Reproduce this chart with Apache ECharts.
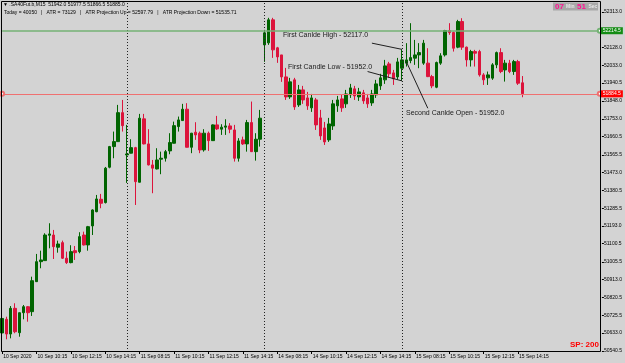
<!DOCTYPE html>
<html>
<head>
<meta charset="utf-8">
<script src="https://cdn.jsdelivr.net/npm/echarts@6/dist/echarts.min.js"></script>
<style>
html,body{margin:0;padding:0;background:#d3d3d3;}
#chart{width:625px;height:363px;}
</style>
</head>
<body>
<div id="chart"></div>
<script>
// .SA40Fut.b M15 bars, 10 Sep 08:15 .. 15 Sep 14:30
var opens = [
  50633.5,50705,50628,50762.5,50635,50739.5,50771,50745,50902,51006.5,51012,51144.5,51146,51082,51106,51024.5,51001.5,51064,51059,51146,51094,51193.5,51268,51333,51315.5,51500.5,51608.5,51634.5,51786,
  51565,51574,51603,51422,51753.5,51622.5,51512.5,51491.5,51542.5,51547.5,51586,51626,51713,51744.5,51804,51605,51683.5,51678.5,51591,51678.5,51639.5,51722,51699.5,51710,51716.5,51695.5,51547.5,51643.5,51622.5,51734,51582,51647,
  52140.5,52151,52271.5,52125,52088,51973,51868.5,51957.5,51826.5,51905,51863,51811,51852.5,51758.5,51706,51643.5,51716.5,51821.5,51858,51832,51879,51910.5,51868.5,51889.5,51863,51837,51879,51926,51957.5,52041,51994,51973,
  52018.5,52045,52058.5,52071,52088,52045,52045,51974.5,51919,52045,52088,52215.5,52205,52128.5,52262.5,52128.5,52062,52105.5,52105.5,51983.5,51968,51966.5,52036,52100,52009.5,52045,52001,52053,51942
];
var closes = [
  50709.5,50628,50762.5,50640,50739.5,50771,50739.5,50907,51006.5,51015.5,51146,51151.5,51085,51099,51024.5,51001.5,51059,51053.5,51137.5,51094,51189.5,51277,51334.5,51312,51495.5,51608.5,51634.5,51786,51718,
  51570,51603,51425,51757,51622.5,51512.5,51495.5,51538.5,51547.5,51582,51629.5,51718,51748,51804,51605,51678.5,51669.5,51591,51678.5,51639.5,51722,51701,51710,51716.5,51699.5,51547.5,51638,51622.5,51734,51582,51647,51757,
  52203.5,52271.5,52114.5,52077.5,51973,51868.5,51947,51816,51905,51852.5,51821.5,51863,51722,51664.5,51633,51727,51832,51852.5,51811,51884,51915.5,51873.5,51894.5,51847.5,51832,51884,51936.5,51968,52030.5,51989,51962.5,52051.5,
  52062,52062,52074,52088,52100,52149.5,51974.5,51926,52048,52083,52215.5,52205,52123,52262.5,52128.5,52062,52105.5,52097,51983.5,51957.5,51983.5,52036,52100,52001,52045,52001,52053,51940,51885
];
var highs = [
  50722.5,50718.5,50774.5,50789,50741,50780,50774.5,50928,51047,51064,51155,51207.5,51172.5,51116.5,51116.5,51059,51092.5,51088.5,51160.5,51163.5,51193.5,51280.5,51355.5,51361,51502,51612,51687,51826.5,51852.5,
  51722,51647,51607,51779.5,51779.5,51699.5,51538.5,51600,51582,51591,51678.5,51739,51765.5,51832,51835.5,51680,51736,51687,51699.5,51687,51724.5,51769,51725.5,51751.5,51731,51722,51652.5,51660.5,51748,51844,51678.5,51800.5,
  52219,52282,52282,52130,52088,52020,51968,51968,51931,51926,51894.5,51884,51863,51800.5,51737.5,51758.5,51852.5,51873.5,51879,51905,51936.5,51926,51915.5,51905,51884,51905,51957.5,51989,52062,52051.5,52009.5,52072.5,
  52117,52149.5,52254,52166.5,52149.5,52166.5,52123,51983.5,52053,52097,52219,52254,52210,52271.5,52280,52131.5,52114.5,52114.5,52114.5,51992.5,52001,52045,52105.5,52123,52062,52062,52062,52062,51977.5
];
var lows = [
  50623,50600.5,50605.5,50632,50614,50705,50692.5,50722.5,50900,50972,51010,51076.5,51020.5,51053.5,51020.5,50994.5,50998,51015.5,51050.5,51091,51064,51146,51265,51286,51311,51495,51547.5,51633,51687,
  51418.5,51573,51303,51421,51620,51510,51364.5,51489,51464,51530,51568.5,51625,51687,51743,51604,51574,51643.5,51574,51582,51586,51638,51695.5,51669.5,51669.5,51678.5,51530,51530,51617,51582,51580,51535,51608.5,
  52051.5,52140.5,52072.5,52046.5,51947,51852.5,51858,51800.5,51816,51832,51800.5,51790,51695.5,51643.5,51617,51633,51695.5,51790,51790,51811,51863,51852.5,51847.5,51832,51811,51821.5,51863,51905,51936.5,51968,51931,51957.5,
  51952,52027,52044.5,52036,52018.5,52036,51972,51914,51914,52036,52079.5,52193,52105.5,52123,52114.5,52027,52027,52027,51974.5,51931,51931,51957.5,52018.5,51992.5,51948.5,51992.5,51983.5,51931,51866.5
];

// time labels, one every 8 bars starting at the first bar
var xLabels = ['10 Sep 2020','10 Sep 10:15','10 Sep 12:15','10 Sep 14:15','11 Sep 08:15','11 Sep 10:15','11 Sep 12:15','11 Sep 14:15',
  '14 Sep 08:15','14 Sep 10:15','14 Sep 12:15','14 Sep 14:15','15 Sep 08:15','15 Sep 10:15','15 Sep 12:15','15 Sep 14:15'];
var labelEvery = 8;
var slots = 140;               // bars + empty space on the right
var dayStarts = ['29', '61', '93'];
var yTicks = [52313.0,52128.0,52033.0,51940.5,51848.0,51753.0,51660.5,51565.5,51473.0,51380.5,51285.5,51193.0,
  51100.5,51005.5,50913.0,50820.5,50725.5,50633.0,50540.5];
var yMin = 50534, yMax = 52370;
var levelGreen = 52214.5;
var levelRed = 51884.5;
// trend lines drawn by the indicator: [fromBar, fromPrice, toBar, toPrice]
var highLine = ['86', 52149.5, '93', 52117.0];
var lowLine = ['85', 52001.0, '93', 51952.0];
var openLine = ['94', 52053.0, '99', 51809.0];

var FONT = '"Liberation Sans", Arial, sans-serif';
var bull = '#006400', bear = '#dc143c';

var cats = [];
for (var i = 0; i < slots; i++) cats.push(String(i));
var ohlc = opens.map(function (o, k) { return [o, closes[k], lows[k], highs[k]]; });

function seg(l) {
  return [{coord: [l[0], l[1]]}, {coord: [l[2], l[3]]}];
}

var chart = echarts.init(document.getElementById('chart'));
chart.setOption({
  animation: false,
  backgroundColor: '#d3d3d3',
  grid: {left: -0.4, right: 23, top: 1, bottom: 11, show: false},
  xAxis: {
    type: 'category',
    data: cats,
    boundaryGap: true,
    axisLine: {show: false},
    axisTick: {
      show: true, alignWithLabel: true, length: 2,
      lineStyle: {color: '#000'},
      interval: function (idx) { return idx % labelEvery === 0 && idx / labelEvery < xLabels.length; }
    },
    axisLabel: {
      interval: function (idx) { return idx % labelEvery === 0 && idx / labelEvery < xLabels.length; },
      formatter: function (v, idx) { return xLabels[idx / labelEvery] || ''; },
      align: 'left', margin: 2, fontSize: 5, color: '#000', fontFamily: FONT,
      padding: [0, 0, 0, 1]
    },
    splitLine: {show: false}
  },
  yAxis: {
    type: 'value',
    position: 'right',
    min: yMin, max: yMax,
    axisLine: {show: false},
    axisTick: {show: true, length: 2, customValues: yTicks, lineStyle: {color: '#000'}},
    axisLabel: {
      customValues: yTicks, margin: 2, fontSize: 5, color: '#000', fontFamily: FONT,
      formatter: function (v) { return v.toFixed(1); }
    },
    splitLine: {show: false}
  },
  series: [
    {
      type: 'candlestick',
      data: ohlc,
      barWidth: 3,
      itemStyle: {color: bull, color0: bear, borderColor: bull, borderColor0: bear, borderWidth: 1},
      markLine: {
        silent: true, symbol: 'none', animation: false,
        label: {show: false},
        lineStyle: {color: '#222', type: [1, 2], width: 1},
        data: dayStarts.map(function (d) { return {xAxis: d}; })
      }
    },
    {
      type: 'line', data: [],
      markLine: {
        silent: true, animation: false,
        symbol: ['none', 'emptyCircle'], symbolSize: 4,
        lineStyle: {color: '#74b274', type: 'solid', width: 1.5},
        label: {
          show: true, position: 'end', distance: 1,
          formatter: levelGreen.toFixed(1),
          backgroundColor: '#148c14', color: '#fff', fontSize: 5, fontFamily: FONT, padding: [1, 2]
        },
        data: [[{coord: ['0', levelGreen]}, {coord: ['139', levelGreen]}]]
      }
    },
    {
      type: 'line', data: [],
      markLine: {
        silent: true, animation: false,
        symbol: ['emptyCircle', 'emptyCircle'], symbolSize: 4,
        lineStyle: {color: '#ef7070', type: 'solid', width: 1},
        label: {
          show: true, position: 'end', distance: 1,
          formatter: levelRed.toFixed(1),
          backgroundColor: '#ff0000', color: '#fff', fontSize: 5, fontFamily: FONT, padding: [1, 2]
        },
        data: [[{coord: ['0', levelRed]}, {coord: ['139', levelRed]}]]
      }
    },
    {
      type: 'line', data: [],
      markLine: {
        silent: true, animation: false, symbol: 'none',
        label: {show: false},
        lineStyle: {color: '#202020', type: 'solid', width: 1},
        data: [seg(highLine), seg(lowLine), seg(openLine)]
      }
    }
  ],
  graphic: [
    // chart frame
    {type: 'rect', shape: {x: 1.5, y: 1.5, width: 599, height: 350}, style: {fill: null, stroke: '#000', lineWidth: 1}, silent: true, z: 100},
    {type: 'text', left: 3, top: 2, style: {text: '\u25BC .SA40Fut.b,M15  51942.0 51977.5 51866.5 51885.0', fontSize: 5, fontFamily: FONT, fill: '#000'}, z: 101},
    {type: 'text', left: 4, top: 10.5, style: {text: 'Today = 40050   |   ATR = 73129   |   ATR Projection Up = 52597.79   |   ATR Projection Down = 51535.71', fontSize: 5, fontFamily: FONT, fill: '#000'}, z: 101},
    // bar timer
    {type: 'rect', shape: {x: 553, y: 2.5, width: 45, height: 8}, style: {fill: '#a8a8a8'}, z: 101},
    {type: 'text', x: 555, y: 6.5, style: {text: '07', fontSize: 8, fontWeight: 'bold', fontFamily: FONT, fill: '#ff1493', textVerticalAlign: 'middle'}, z: 102},
    {type: 'text', x: 566, y: 6.5, style: {text: 'Min', fontSize: 5, fontWeight: 'bold', fontFamily: FONT, fill: '#e6e6e6', textVerticalAlign: 'middle'}, z: 102},
    {type: 'text', x: 577, y: 6.5, style: {text: '51', fontSize: 8, fontWeight: 'bold', fontFamily: FONT, fill: '#ff1493', textVerticalAlign: 'middle'}, z: 102},
    {type: 'text', x: 588.5, y: 6.5, style: {text: 'Sec', fontSize: 5, fontWeight: 'bold', fontFamily: FONT, fill: '#e6e6e6', textVerticalAlign: 'middle'}, z: 102},
    // indicator notes
    {type: 'text', x: 283, y: 35, style: {text: 'First Canlde High - 52117.0', fontSize: 7, fontFamily: FONT, fill: '#1a1a1a', textVerticalAlign: 'middle'}, z: 101},
    {type: 'text', x: 288, y: 67, style: {text: 'First Candle Low - 51952.0', fontSize: 7, fontFamily: FONT, fill: '#1a1a1a', textVerticalAlign: 'middle'}, z: 101},
    {type: 'text', x: 406, y: 113.5, style: {text: 'Second Canlde Open - 51952.0', fontSize: 7, fontFamily: FONT, fill: '#1a1a1a', textVerticalAlign: 'middle'}, z: 101},
    {type: 'text', x: 570, y: 345, style: {text: 'SP: 200', fontSize: 8, fontWeight: 'bold', fontFamily: FONT, fill: '#ff0000', textVerticalAlign: 'middle'}, z: 101}
  ]
});
</script>
</body>
</html>
